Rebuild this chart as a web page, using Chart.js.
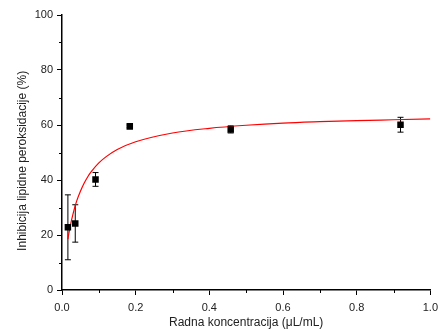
<!DOCTYPE html>
<html>
<head>
<meta charset="utf-8">
<script src="https://cdn.jsdelivr.net/npm/chart.js@4"></script>
<style>
  html, body { margin: 0; padding: 0; background: #fff; }
  #wrap { width: 440px; height: 330px; }
</style>
</head>
<body>
<div id="wrap"><canvas id="chart" width="440" height="330"></canvas></div>
<script>
// measured points
const concentration = [0.016, 0.036, 0.091, 0.184, 0.458, 0.919];
const inhibition = [22.8, 24.2, 40.2, 59.5, 58.4, 60.1];
const inhibitionErr = [11.8, 6.8, 2.5, 0.5, 1.3, 2.7];

// fitted curve
const fitX = [0.016, 0.02, 0.025, 0.03, 0.035, 0.04, 0.05, 0.06, 0.07, 0.08, 0.1, 0.12, 0.15, 0.2, 0.3, 0.4, 0.5, 0.6, 0.7, 0.8, 0.9, 1.0];
const fitY = [18.5, 21.6, 24.9, 27.7, 30.2, 32.4, 35.9, 38.8, 41.2, 43.1, 46.2, 48.5, 51.1, 53.9, 57.1, 58.8, 59.9, 60.7, 61.2, 61.6, 61.9, 62.2];

// axis ticks
const xTicks = [0, 0.2, 0.4, 0.6, 0.8, 1.0];
const xMinorTicks = [0.1, 0.3, 0.5, 0.7, 0.9];
const yTicks = [0, 20, 40, 60, 80, 100];
const yMinorTicks = [10, 30, 50, 70, 90];

const FONT = 'Liberation Sans, Arial, sans-serif';

// error bars + minor ticks, drawn through the chart scales
const extras = {
  id: 'extras',
  beforeDatasetsDraw(chart) {
    const { ctx, scales: { x, y } } = chart;
    ctx.save();
    ctx.strokeStyle = '#000';
    ctx.lineWidth = 1;
    concentration.forEach((c, i) => {
      const px = x.getPixelForValue(c);
      const top = y.getPixelForValue(inhibition[i] + inhibitionErr[i]);
      const bot = y.getPixelForValue(inhibition[i] - inhibitionErr[i]);
      ctx.beginPath();
      ctx.moveTo(px, top); ctx.lineTo(px, bot);
      ctx.moveTo(px - 3, top); ctx.lineTo(px + 3, top);
      ctx.moveTo(px - 3, bot); ctx.lineTo(px + 3, bot);
      ctx.stroke();
    });
    ctx.restore();
  },
  afterDraw(chart) {
    const { ctx, chartArea, scales: { x, y } } = chart;
    ctx.save();
    ctx.strokeStyle = '#000';
    ctx.lineWidth = 1;
    ctx.beginPath();
    xMinorTicks.forEach(v => {
      const px = Math.round(x.getPixelForValue(v)) + 0.5;
      ctx.moveTo(px, chartArea.bottom); ctx.lineTo(px, chartArea.bottom + 3);
    });
    yMinorTicks.forEach(v => {
      const py = Math.round(y.getPixelForValue(v)) + 0.5;
      ctx.moveTo(chartArea.left, py); ctx.lineTo(chartArea.left - 3, py);
    });
    ctx.stroke();
    ctx.restore();
  }
};

new Chart(document.getElementById('chart'), {
  type: 'scatter',
  data: {
    datasets: [
      {
        label: 'measured',
        data: concentration.map((c, i) => ({ x: c, y: inhibition[i] })),
        pointStyle: 'rect',
        pointRadius: 4.6,
        backgroundColor: '#000',
        borderColor: '#000',
        borderWidth: 0
      },
      {
        label: 'fit',
        data: fitX.map((v, i) => ({ x: v, y: fitY[i] })),
        showLine: true,
        cubicInterpolationMode: 'monotone',
        pointRadius: 0,
        borderColor: '#ff0000',
        borderWidth: 1.2,
        fill: false
      }
    ]
  },
  options: {
    responsive: false,
    animation: false,
    layout: { padding: { top: 15, right: 9, left: 0, bottom: 0 } },
    plugins: { legend: { display: false }, tooltip: { enabled: false } },
    scales: {
      x: {
        type: 'linear',
        min: 0, max: 1,
        afterBuildTicks: s => { s.ticks = xTicks.map(v => ({ value: v })); },
        afterFit: s => { s.height = 40; },
        border: { color: '#000', width: 1.5 },
        grid: { display: true, drawOnChartArea: false, drawTicks: true, tickLength: 5, tickColor: '#000' },
        ticks: {
          color: '#222', padding: 2,
          // taller line box pushes the labels a bit lower without touching the side padding
          font: { family: FONT, size: 11, lineHeight: 1.93 },
          callback: v => v.toFixed(1)
        },
        title: {
          display: true,
          text: 'Radna koncentracija (μL/mL)',
          color: '#222',
          font: { family: FONT, size: 12 },
          padding: { top: 0, bottom: 0 }
        }
      },
      y: {
        min: 0, max: 100,
        afterBuildTicks: s => { s.ticks = yTicks.map(v => ({ value: v })); },
        afterFit: s => { s.width = 62; },
        border: { color: '#000', width: 1.5 },
        grid: { display: true, drawOnChartArea: false, drawTicks: true, tickLength: 5, tickColor: '#000' },
        ticks: {
          color: '#222', padding: 4,
          font: { family: FONT, size: 11 }
        },
        title: {
          display: true,
          // trailing spaces nudge the rotated label down like in the original
          text: 'Inhibicija lipidne peroksidacije (%)     ',
          color: '#222',
          font: { family: FONT, size: 12 },
          padding: { top: 15, bottom: 0 }
        }
      }
    }
  },
  plugins: [extras]
});
</script>
</body>
</html>
